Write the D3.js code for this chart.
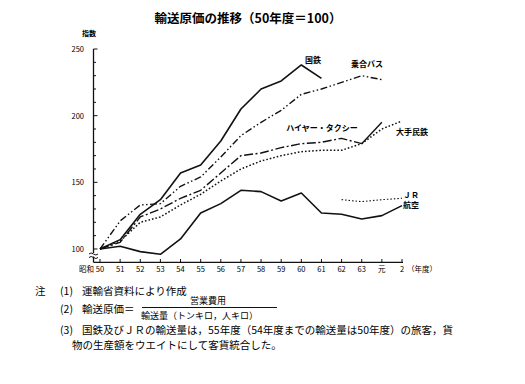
<!DOCTYPE html>
<html>
<head>
<meta charset="utf-8">
<script src="https://cdn.jsdelivr.net/npm/d3@7.9.0/dist/d3.min.js"></script>
<style>
  body { margin: 0; background: #fff; }
  svg { font-family: "Noto Sans CJK JP", sans-serif; }
</style>
</head>
<body>
<svg id="chart" width="525" height="384"></svg>
<script>
// fiscal years (Showa 50 .. Heisei 2)
const years = ['50', '51', '52', '53', '54', '55', '56', '57', '58', '59', '60', '61', '62', '63', '元', '2'];

// index values (50年度 = 100), null = no data
const kokutetsu = [100, 107, 126, 137, 157, 163, 181, 205, 220, 226, 238, 228, null, null, null, null];
const bus      = [100, 121, 133, 134, 147, 154, 169, 185, 195, 204, 216, 220, 225, 230, 227, null];
const taxi     = [100, 105, 124, 130, 138, 144, 157, 170, 172, 176, 179, 180, 183, 179, null, null];
const taxiLast = [null, null, null, null, null, null, null, null, null, null, null, null, null, 179, 195, null];
const minetsu  = [100, 106, 120, 124, 133, 141, 151, 160, 166, 170, 173, 174, 174, 179, 190, 196];
const jr       = [null, null, null, null, null, null, null, null, null, null, null, null, 137, 135.5, 137, 138];
const koku     = [100, 102, 98, 96, 107.5, 127, 134, 144, 143, 136, 142, 127, 126, 122.5, 125, 132.5];

const yTicks = [100, 150, 200, 250];

const svg = d3.select('#chart');

const x = d3.scalePoint().domain(years).range([100, 402]);
const y = d3.scaleLinear().domain([90, 250]).range([262.3, 49]);

// title
svg.append('text')
  .attr('x', 248).attr('y', 23)
  .attr('text-anchor', 'middle')
  .attr('font-size', 12.5).attr('font-weight', 'bold')
  .text('輸送原価の推移（50年度＝100）');

// y axis
svg.append('line')
  .attr('x1', 93.5).attr('x2', 93.5)
  .attr('y1', y(250)).attr('y2', 262.3)
  .attr('stroke', '#111').attr('stroke-width', 1.3);

const minor = d3.range(100, 251, 10);
svg.selectAll('.ytick')
  .data(minor)
  .join('line')
  .attr('x1', 93.5).attr('x2', (d) => (d % 50 === 0 ? 97.5 : 96))
  .attr('y1', (d) => y(d)).attr('y2', (d) => y(d))
  .attr('stroke', '#111').attr('stroke-width', 1);

svg.selectAll('.ylab')
  .data(yTicks)
  .join('text')
  .attr('x', 84).attr('y', (d) => y(d) + 3)
  .attr('text-anchor', 'end')
  .attr('font-size', 7.5)
  .text((d) => d);

svg.append('text')
  .attr('x', 89).attr('y', 36)
  .attr('text-anchor', 'middle')
  .attr('font-size', 7).attr('font-weight', 'bold')
  .text('指数');

// axis break
svg.append('rect').attr('x', 89).attr('y', 253).attr('width', 9).attr('height', 3.5).attr('fill', '#fff');
[253, 256.5].forEach((yy) => {
  svg.append('path')
    .attr('d', `M89,${yy + 1} q2,-2 4.5,0 t4.5,0`)
    .attr('fill', 'none').attr('stroke', '#111').attr('stroke-width', 1);
});

// x axis
svg.append('line')
  .attr('x1', 93.5).attr('x2', 403)
  .attr('y1', 262.3).attr('y2', 262.3)
  .attr('stroke', '#111').attr('stroke-width', 1.3);

svg.selectAll('.xtick')
  .data(years)
  .join('line')
  .attr('x1', (d) => x(d)).attr('x2', (d) => x(d))
  .attr('y1', 262.3).attr('y2', 259)
  .attr('stroke', '#111').attr('stroke-width', 1);

svg.selectAll('.xlab')
  .data(years)
  .join('text')
  .attr('x', (d) => x(d))
  .attr('y', 272)
  .attr('text-anchor', 'middle')
  .attr('font-size', 7.5)
  .text((d) => d);

svg.append('text')
  .attr('x', x('50') - 6).attr('y', 272)
  .attr('text-anchor', 'end')
  .attr('font-size', 7.5)
  .text('昭和');

svg.append('text')
  .attr('x', x('2') + 5).attr('y', 272)
  .attr('font-size', 7.5)
  .text('（年度）');

// lines
const line = d3.line()
  .defined((d) => d != null)
  .x((d, i) => x(years[i]))
  .y((d) => y(d));

const series = [
  { values: kokutetsu, dash: null, width: 1.6 },
  { values: bus, dash: '7,2.5,1.5,2.5,1.5,2.5', width: 1.4 },
  { values: taxi, dash: '9,2.5,2,2.5', width: 1.4 },
  { values: taxiLast, dash: null, width: 1.4 },
  { values: minetsu, dash: '1.6,2', width: 1.5 },
  { values: jr, dash: '1.5,2', width: 1.1 },
  { values: koku, dash: null, width: 1.6 },
];

svg.selectAll('.series')
  .data(series)
  .join('path')
  .attr('d', (d) => line(d.values))
  .attr('fill', 'none')
  .attr('stroke', '#111')
  .attr('stroke-width', (d) => d.width)
  .attr('stroke-dasharray', (d) => d.dash)
  .attr('stroke-linejoin', 'round');

// series labels
const labels = [
  { text: '国鉄', x: 313, y: 63 },
  { text: '乗合バス', x: 367, y: 67 },
  { text: 'ハイヤー・タクシー', x: 322, y: 131 },
  { text: '大手民鉄', x: 412, y: 135 },
  { text: 'ＪＲ', x: 411, y: 198 },
  { text: '航空', x: 411, y: 208 },
];

svg.selectAll('.lab')
  .data(labels)
  .join('text')
  .attr('x', (d) => d.x).attr('y', (d) => d.y)
  .attr('text-anchor', 'middle')
  .attr('font-size', 8).attr('font-weight', 'bold')
  .text((d) => d.text);

// notes
const notes = svg.append('g').attr('font-size', 10.5);
notes.append('text').attr('x', 35).attr('y', 295).text('注');
notes.append('text').attr('x', 60).attr('y', 295).text('(1)');
notes.append('text').attr('x', 82).attr('y', 295).text('運輸省資料により作成');
notes.append('text').attr('x', 60).attr('y', 313).text('(2)');
notes.append('text').attr('x', 82).attr('y', 313).text('輸送原価＝');
notes.append('text').attr('x', 208).attr('y', 303.5).attr('font-size', 9)
  .attr('text-anchor', 'middle').text('営業費用');
notes.append('line').attr('x1', 142).attr('x2', 277).attr('y1', 307.5).attr('y2', 307.5)
  .attr('stroke', '#111').attr('stroke-width', 1);
notes.append('text').attr('x', 141).attr('y', 318.5).attr('font-size', 9)
  .text('輸送量（トンキロ，人キロ）');
notes.append('text').attr('x', 60).attr('y', 334).text('(3)');
notes.append('text').attr('x', 82).attr('y', 334).text('国鉄及びＪＲの輸送量は，55年度（54年度までの輸送量は50年度）の旅客，貨');
notes.append('text').attr('x', 72).attr('y', 349).text('物の生産額をウエイトにして客貨統合した。');
</script>
</body>
</html>
